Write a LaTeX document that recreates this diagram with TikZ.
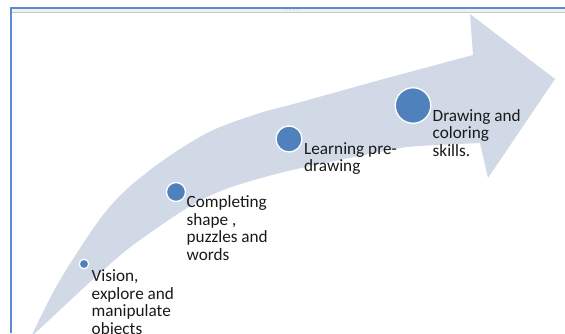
\documentclass[tikz,border=0pt]{standalone}
\usepackage{fontspec}
\setmainfont{Carlito}
\definecolor{bandfill}{RGB}{209,217,231}
\definecolor{dotblue}{RGB}{79,129,189}
\definecolor{frameblue}{RGB}{90,138,208}
\definecolor{txt}{RGB}{25,25,25}
\begin{document}
\begin{tikzpicture}[x=1pt,y=-1pt,
  stage/.style={circle,fill=dotblue,draw=white,line width=1.3pt,inner sep=0pt},
  stagetext/.style={anchor=base west,align=left,inner sep=0pt,
    font=\fontsize{17.2}{17.6}\selectfont,text=txt}]
\useasboundingbox (0,0) rectangle (565,333);
\clip (0,0) rectangle (565,333);

% window frame
\fill[gray!12] (12,9) rectangle (565,12.5);
\draw[gray!45,line width=0.8pt] (12,12.8) -- (565,12.8);
\draw[frameblue,line width=2pt] (11,333) -- (11,8) -- (565,8);
\foreach \x in {286,290,294,298} \fill[gray!30] (\x,10) circle (0.9);

% curved arrow
\fill[bandfill]
  plot[smooth,tension=0.55] coordinates {(31,337) (60,280) (107,210) (150,170) (207,133) (260,113) (290,105) (380,80) (473,55)}
  -- (470,14) -- (555,79) -- (488,178) -- (480,143)
  -- plot[smooth,tension=0.55] coordinates {(480,143) (420,146) (390,150) (280,173) (207,197) (140,240) (100,273) (31,337)}
  -- cycle;

% stages
\node[stage,minimum size=9.5pt]  (s1) at (84,264) {};
\node[stage,minimum size=19pt]   (s2) at (176,192) {};
\node[stage,minimum size=26pt]   (s3) at (289,139) {};
\node[stage,minimum size=35.5pt] (s4) at (413,105.5) {};

% labels (anchored at the baseline of their last line)
\node[stagetext] (t1) at (91.5,334.3) {Vision,\\explore and\\manipulate\\objects};
\node[stagetext] (t2) at (186.5,260.3) {Completing\\shape ,\\puzzles and\\words};
\node[stagetext] (t3) at (304,171.6) {Learning pre-\\drawing};
\node[stagetext] (t4) at (432.5,156.2) {Drawing and\\coloring\\skills.};
\end{tikzpicture}
\end{document}
